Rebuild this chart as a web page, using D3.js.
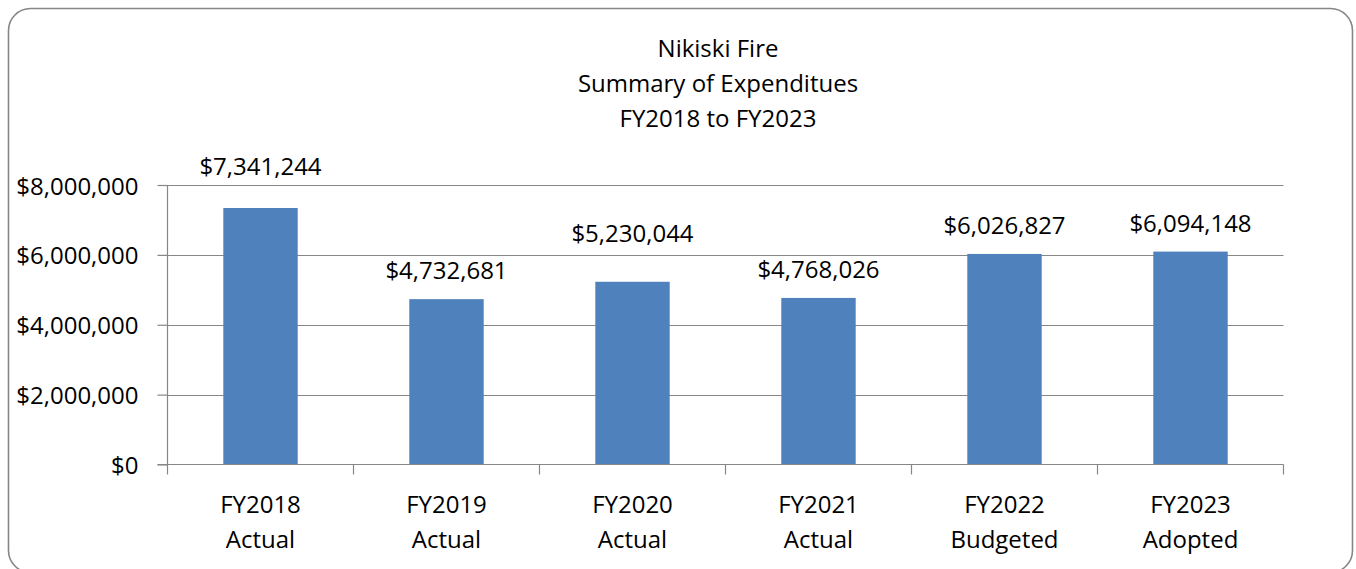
<!DOCTYPE html>
<html>
<head>
<meta charset="utf-8">
<script src="https://cdn.jsdelivr.net/npm/d3@7"></script>
<style>
  html, body { margin: 0; padding: 0; background: #fff; }
  svg { display: block; font-family: "Open Sans", "Noto Sans", sans-serif; }
</style>
</head>
<body>
<svg id="chart" width="1356" height="569"></svg>
<script>
// ---- data ----
const titleLines = ["Nikiski Fire", "Summary of Expenditues", "FY2018 to FY2023"];
const categoryYears = ["FY2018", "FY2019", "FY2020", "FY2021", "FY2022", "FY2023"];
const categoryStatus = ["Actual", "Actual", "Actual", "Actual", "Budgeted", "Adopted"];
const expenditures = [7341244, 4732681, 5230044, 4768026, 6026827, 6094148];
const yTicks = [0, 2000000, 4000000, 6000000, 8000000];

// ---- layout ----
const svg = d3.select("#chart");
const plot = { left: 167.5, right: 1283.5, top: 185, bottom: 464.5 };
const gridColor = "#878787";
const barColor = "#4F81BD";
const fontSize = 24;

// outer rounded border
svg.append("rect")
  .attr("x", 8.5).attr("y", 8.5)
  .attr("width", 1344).attr("height", 564)
  .attr("rx", 22).attr("ry", 22)
  .attr("fill", "#fff")
  .attr("stroke", "#868686")
  .attr("stroke-width", 1.6);

// title
svg.append("text")
  .attr("x", 718).attr("y", 57)
  .attr("text-anchor", "middle")
  .attr("font-size", fontSize)
  .attr("fill", "#000")
  .selectAll("tspan")
  .data(titleLines)
  .join("tspan")
  .attr("x", 718)
  .attr("dy", (d, i) => i === 0 ? 0 : 35)
  .text(d => d);

const keys = categoryYears.map((d, i) => d + " " + categoryStatus[i]);

const x = d3.scaleBand()
  .domain(keys)
  .range([plot.left, plot.right])
  .paddingInner(0.6)
  .paddingOuter(0.3);

const y = d3.scaleLinear()
  .domain([0, 8000000])
  .range([plot.bottom, plot.top]);

// gridlines
svg.append("g")
  .selectAll("line")
  .data(yTicks.filter(d => d > 0))
  .join("line")
  .attr("x1", plot.left).attr("x2", plot.right)
  .attr("y1", d => Math.round(y(d)) + 0.5)
  .attr("y2", d => Math.round(y(d)) + 0.5)
  .attr("stroke", gridColor)
  .attr("stroke-width", 1.2);

// bars
svg.append("g")
  .selectAll("rect")
  .data(expenditures)
  .join("rect")
  .attr("x", (d, i) => x(keys[i]))
  .attr("width", x.bandwidth())
  .attr("y", d => y(d))
  .attr("height", d => y(0) - y(d))
  .attr("fill", barColor);

// y axis
const yAxis = d3.axisLeft(y)
  .tickValues(yTicks)
  .tickSize(10)
  .tickPadding(19)
  .tickFormat(d => "$" + d3.format(",")(d));

const gy = svg.append("g")
  .attr("transform", `translate(${plot.left},0)`)
  .call(yAxis);
gy.select(".domain").attr("stroke", gridColor).attr("stroke-width", 1.2)
  .attr("d", `M0,${plot.top}V${plot.bottom}`);
gy.selectAll(".tick line").attr("stroke", gridColor).attr("stroke-width", 1.2);
gy.selectAll(".tick text")
  .attr("font-size", fontSize)
  .attr("font-family", "'Open Sans', 'Noto Sans', sans-serif")
  .attr("fill", "#000")
  .attr("dy", null)
  .attr("y", 9);

// x axis baseline and category boundary ticks
const step = x.step();
const boundaries = keys.map(k => x(k) - x.paddingOuter() * step).concat([plot.right]);
svg.append("line")
  .attr("x1", plot.left - 10).attr("x2", plot.right)
  .attr("y1", plot.bottom).attr("y2", plot.bottom)
  .attr("stroke", gridColor).attr("stroke-width", 1.2);
svg.append("g")
  .selectAll("line")
  .data(boundaries)
  .join("line")
  .attr("x1", d => d).attr("x2", d => d)
  .attr("y1", plot.bottom).attr("y2", plot.bottom + 10)
  .attr("stroke", gridColor).attr("stroke-width", 1.2);

// category labels
const catG = svg.append("g")
  .selectAll("text")
  .data(keys)
  .join("text")
  .attr("text-anchor", "middle")
  .attr("font-size", fontSize)
  .attr("fill", "#000");
catG.append("tspan")
  .attr("x", d => x(d) + x.bandwidth() / 2)
  .attr("y", 513)
  .text((d, i) => categoryYears[i]);
catG.append("tspan")
  .attr("x", d => x(d) + x.bandwidth() / 2)
  .attr("y", 548)
  .text((d, i) => categoryStatus[i]);

// value labels (some manually lifted, as in the original)
const labelGap = 20;
const labelLift = [13, 0, 20, 0, 0, 0];
svg.append("g")
  .selectAll("text")
  .data(expenditures)
  .join("text")
  .attr("x", (d, i) => x(keys[i]) + x.bandwidth() / 2)
  .attr("y", (d, i) => y(d) - labelGap - labelLift[i])
  .attr("text-anchor", "middle")
  .attr("font-size", fontSize)
  .attr("fill", "#000")
  .text(d => "$" + d3.format(",")(d));
</script>
</body>
</html>
